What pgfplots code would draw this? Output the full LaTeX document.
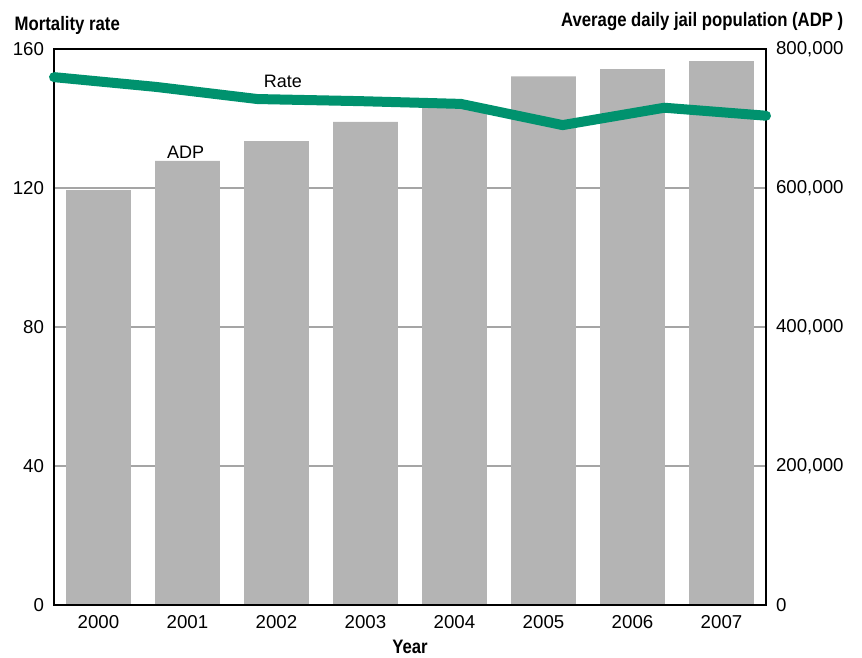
\documentclass[border=0pt]{standalone}
\usepackage{pgfplots}
\pgfplotsset{compat=1.18}
\usepackage{pgfplotstable}
\usepackage{fontspec}
\setmainfont{Liberation Sans}
\newfontfamily\titlefont{Liberation Sans}[FakeStretch=0.86]

\definecolor{rategreen}{RGB}{0,146,110}
\definecolor{bargray}{RGB}{180,180,180}
\definecolor{gridgray}{RGB}{165,165,165}

% average daily jail population, bars at slot centres
\pgfplotstableread{
x   adp
0.5 597000
1.5 639000
2.5 667500
3.5 695000
4.5 718000
5.5 760500
6.5 771000
7.5 782700
}\adpdata

% mortality rate, spread edge to edge
\pgfplotstableread{
x rate
0 151.9
1 149.1
2 145.6
3 145.0
4 144.2
5 138.1
6 143.1
7 140.8
}\ratedata

\pgfplotsset{
  common/.style={
    at={(0,0)}, anchor=south west,
    scale only axis,
    width=534pt, height=417pt,
    major tick length=0pt,
    tick label style={font=\fontsize{14}{16}\selectfont},
    /pgf/number format/assume math mode=true,
  },
}

\begin{document}
\begin{tikzpicture}
  % bars (right axis) drawn first, grid behind them
  \begin{axis}[
    common,
    xmin=0, xmax=8,
    ymin=0, ymax=800000,
    axis line style={draw=none},
    xtick={0.5,1.5,2.5,3.5,4.5,5.5,6.5,7.5},
    xticklabels={2000,2001,2002,2003,2004,2005,2006,2007},
    xtick pos=bottom,
    xticklabel style={yshift=-4pt},
    ytick={0,200000,400000,600000,800000},
    ytick pos=right,
    yticklabel pos=right,
    yticklabel style={xshift=4pt, /pgf/number format/fixed, /pgf/number format/1000 sep={,}},
    scaled y ticks=false,
    ymajorgrids=true,
    grid style={gridgray, line width=1pt},
  ]
    \addplot[ybar, bar width=0.73, fill=bargray, draw=none]
      table[x=x, y=adp] {\adpdata};
  \end{axis}

  % rate line (left axis) on top, with the frame
  \begin{axis}[
    common,
    xmin=0, xmax=7,
    ymin=0, ymax=160,
    clip=false,
    axis line style={black, line width=0.9pt},
    xtick=\empty,
    ytick={0,40,80,120,160},
    ytick pos=left,
    yticklabel style={xshift=-4pt},
  ]
    \addplot[rategreen, line width=7.5pt, line cap=round, line join=round]
      table[x=x, y=rate] {\ratedata};
    \node[font=\fontsize{13.5}{16}\selectfont] at (rel axis cs:0.3216,0.9424) {Rate};
    \node[font=\fontsize{13.5}{16}\selectfont] at (rel axis cs:0.185,0.815) {ADP};
  \end{axis}

  \node[anchor=base west, font=\titlefont\fontsize{14.6}{17}\selectfont\bfseries] at (-33pt,431pt) {Mortality rate};
  \node[anchor=base east, font=\titlefont\fontsize{14.6}{17}\selectfont\bfseries] at (595.5pt,433.5pt) {Average daily jail population (ADP )};
  \node[anchor=base, font=\titlefont\fontsize{14.6}{17}\selectfont\bfseries] at (267pt,-36pt) {Year};

  \pgfresetboundingbox
  \path (-40.5pt,-39pt) rectangle (606pt,453.75pt);
\end{tikzpicture}
\end{document}
